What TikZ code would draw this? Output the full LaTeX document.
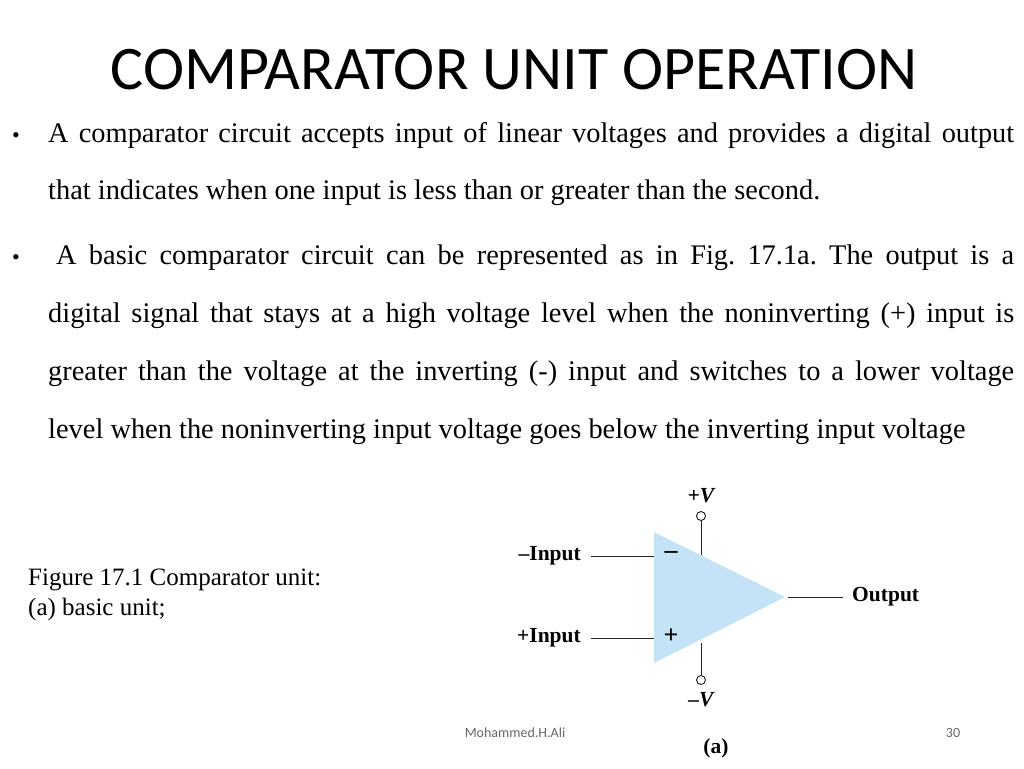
\documentclass[tikz,border=0pt]{standalone}
\usepackage{fontspec}
\setmainfont{Liberation Serif}
\newfontfamily\titlefont{Carlito}
\usetikzlibrary{positioning}
\definecolor{ampblue}{RGB}{197,227,247}
\frenchspacing
\newcommand{\fullline}[1]{\makebox[966pt][s]{#1}}
\tikzset{
  body/.style={anchor=base west,inner sep=0pt,font=\fontsize{28.4}{28}\selectfont},
  dot/.style={anchor=base,inner sep=0pt,font=\fontsize{22}{22}\selectfont},
  lbl/.style={inner sep=0pt,font=\fontsize{21.5}{21}\selectfont\bfseries},
  pin/.style={draw,circle,inner sep=0pt,minimum size=9pt,thick},
  wire/.style={thick,black!85}
}
\begin{document}
\begin{tikzpicture}[x=1pt,y=-1pt]
\useasboundingbox (0,0) rectangle (1024,768);
% title
\node (title) at (514,70) {\titlefont\fontsize{62}{62}\selectfont COMPARATOR UNIT OPERATION};
% bullets
\node[dot] (b1) at (16,142) {\textbullet};
\node[body] (l1) at (48,142) {\fullline{A comparator circuit accepts input of linear voltages and provides a digital output}};
\node[body] (l2) at (48,199) {that indicates when one input is less than or greater than the second.};
\node[dot] (b2) at (16,264) {\textbullet};
\node[body] (l3) at (56,264) {\makebox[958pt][s]{A basic comparator circuit can be represented as in Fig. 17.1a. The output is a}};
\node[body] (l4) at (48,322) {\fullline{digital signal that stays at a high voltage level when the noninverting (+) input is}};
\node[body] (l5) at (48,380) {\fullline{greater than the voltage at the inverting (-) input and switches to a lower voltage}};
\node[body] (l6) at (48,438) {level when the noninverting input voltage goes below the inverting input voltage};
% caption
\node[anchor=base west,inner sep=0pt,font=\fontsize{25}{25}\selectfont] (cap1) at (28,585) {Figure 17.1 Comparator unit:};
\node[anchor=base west,inner sep=0pt,font=\fontsize{25}{25}\selectfont] (cap2) at (28,615) {(a) basic unit;};
% comparator
\fill[ampblue] (654,532) -- (785,597) -- (654,663) -- cycle;
\coordinate (ninv) at (654,556);
\coordinate (pinv) at (654,638);
\coordinate (outp) at (788,597);
\node[lbl,anchor=east] (inm) at (581,556) {\textendash Input};
\node[lbl,anchor=east] (inp) at (581,638) {+Input};
\draw[wire] (inm.east) ++(10,0) -- (ninv);
\draw[wire] (inp.east) ++(10,0) -- (pinv);
\node[inner sep=0pt,font=\fontsize{26}{26}\selectfont\bfseries] (minus) at (671,555) {\textendash};
\node[inner sep=0pt,font=\fontsize{26}{26}\selectfont\bfseries] (plus) at (671,636) {+};
\node[pin] (vp) at (701,516) {};
\node[pin] (vm) at (701,680) {};
\draw[wire] (vp.south) -- (701,555);
\draw[wire] (vm.north) -- (701,643);
\node[lbl,font=\fontsize{21.5}{21}\selectfont\bfseries\itshape] (vplbl) at (701,496) {+V};
\node[lbl,font=\fontsize{21.5}{21}\selectfont\bfseries\itshape] (vmlbl) at (701,700) {\textendash V};
\node[lbl,anchor=west] (out) at (852,597) {Output};
\draw[wire] (outp) -- ([xshift=-9pt]out.west);
\node[lbl] (sub) at (716,748) {(a)};
% footer
\node[font=\titlefont\fontsize{14}{14}\selectfont,text=black!60] (author) at (515,733) {Mohammed.H.Ali};
\node[font=\titlefont\fontsize{14}{14}\selectfont,text=black!60] (page) at (953,733) {30};
\end{tikzpicture}
\end{document}
